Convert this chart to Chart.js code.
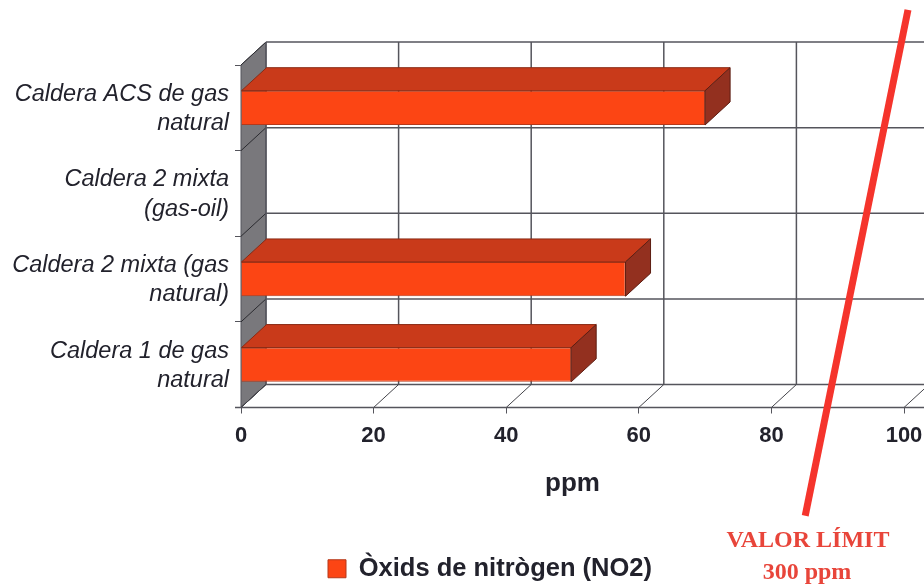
<!DOCTYPE html>
<html>
<head>
<meta charset="utf-8">
<title>Òxids de nitrògen</title>
<script src="https://cdn.jsdelivr.net/npm/chart.js@4/dist/chart.umd.min.js"></script>
<style>
    html, body { margin: 0; padding: 0; background: #fff; }
    #wrap { width: 924px; height: 587px; }
</style>
</head>
<body>
<div id="wrap"><canvas id="chart" width="924" height="587"></canvas></div>
<script>
const categories = [
    ['Caldera ACS de gas', 'natural'],
    ['Caldera 2 mixta', '(gas-oil)'],
    ['Caldera 2 mixta (gas', 'natural)'],
    ['Caldera 1 de gas', 'natural']
];
const noxValues = [70, 0, 58, 49.8];
const xTicks = [0, 20, 40, 60, 80, 100];

// the slanted limit line, in x units and on a hidden 0-100 vertical axis
const limitX = [85.1, 100.6];
const limitY = [-31.6, 116.1];
const limitLabel = ['VALOR LÍMIT', '300 ppm'];

const depthX = 25;
const depthY = 23;
const gridColor = '#55555c';
const textColor = '#22222c';
const sansFont = '"Liberation Sans", Arial, sans-serif';

function polygon(ctx, points, fill, stroke) {
    ctx.beginPath();
    points.forEach(([x, y], i) => (i ? ctx.lineTo(x, y) : ctx.moveTo(x, y)));
    ctx.closePath();
    ctx.fillStyle = fill;
    ctx.fill();
    ctx.lineWidth = 1;
    ctx.strokeStyle = stroke;
    ctx.stroke();
}

function segment(ctx, x1, y1, x2, y2, color, width) {
    ctx.beginPath();
    ctx.moveTo(x1, y1);
    ctx.lineTo(x2, y2);
    ctx.strokeStyle = color;
    ctx.lineWidth = width;
    ctx.stroke();
}

// back wall, side wall and floor of the 3d box
const boxPlugin = {
    id: 'box3d',
    beforeDraw(chart) {
        // legend sits off-centre in the reference
        const legend = chart.legend;
        legend.left = 318;
        legend.right = 720;
        legend.top = 546;
        legend.bottom = 587;
    },
    beforeDatasetsDraw(chart) {
        const { ctx, chartArea, width } = chart;
        const x = chart.scales.x;
        const left = chartArea.left;
        const top = chartArea.top;
        const bottom = chartArea.bottom;
        const bandHeight = (bottom - top) / categories.length;

        ctx.save();
        polygon(ctx, [[left, top], [left + depthX, top - depthY], [left + depthX, bottom - depthY], [left, bottom]], '#79787c', '#55555c');

        for (let i = 0; i <= categories.length; i++) {
            const yFront = top + bandHeight * i;
            segment(ctx, left, yFront, left + depthX, yFront - depthY, '#2b2b30', 1);
            segment(ctx, left + depthX, yFront - depthY, width, yFront - depthY, gridColor, 1.5);
        }
        xTicks.forEach((tick) => {
            const xFront = x.getPixelForValue(tick);
            segment(ctx, xFront + depthX, top - depthY, xFront + depthX, bottom - depthY, gridColor, 1.5);
            segment(ctx, xFront, bottom, xFront + depthX, bottom - depthY, '#44444a', 1);
        });
        segment(ctx, left - 6, bottom, width, bottom, gridColor, 1.5);
        ctx.restore();
    },
    afterDatasetsDraw(chart) {
        const { ctx } = chart;
        const bars = chart.getDatasetMeta(0).data;

        ctx.save();
        bars.forEach((bar, i) => {
            if (!noxValues[i]) return;
            const { x: end, y: center, base, height } = bar.getProps(['x', 'y', 'base', 'height']);
            const barTop = center - height / 2;
            const barBottom = center + height / 2;
            polygon(ctx, [[base, barTop], [base + depthX, barTop - depthY], [end + depthX, barTop - depthY], [end, barTop]], '#c93a1a', '#8a2a14');
            polygon(ctx, [[end, barTop], [end + depthX, barTop - depthY], [end + depthX, barBottom - depthY], [end, barBottom]], '#93301f', '#5c1d12');
        });

        ctx.fillStyle = '#e8453a';
        ctx.font = 'bold 24px "Liberation Serif", serif';
        ctx.textAlign = 'center';
        ctx.textBaseline = 'middle';
        ctx.fillText(limitLabel[0], 808, 541);
        ctx.fillText(limitLabel[1], 807, 573);
        ctx.restore();
    }
};

new Chart(document.getElementById('chart'), {
    type: 'bar',
    data: {
        labels: categories,
        datasets: [
            {
                label: 'Òxids de nitrògen (NO2)',
                data: noxValues,
                backgroundColor: '#fc4514',
                borderColor: '#b5391a',
                borderWidth: 1,
                barPercentage: 0.4,
                categoryPercentage: 1,
                grouped: false
            },
            {
                type: 'scatter',
                label: 'Valor límit',
                indexAxis: 'x',
                xAxisID: 'x',
                yAxisID: 'yLimit',
                data: limitX.map((x, i) => ({ x: x, y: limitY[i] })),
                showLine: true,
                clip: false,
                borderColor: '#f5342c',
                borderWidth: 7,
                pointRadius: 0,
                order: -1
            }
        ]
    },
    options: {
        indexAxis: 'y',
        responsive: false,
        animation: false,
        layout: { padding: { top: 65, right: 20, left: 0, bottom: 0 } },
        scales: {
            x: {
                type: 'linear',
                position: 'bottom',
                min: 0,
                max: 100,
                afterFit: (scale) => {
                    scale.height = 134;
                    scale.paddingLeft = 0;
                    scale.paddingRight = 0;
                },
                afterBuildTicks: (scale) => { scale.ticks = xTicks.map((value) => ({ value })); },
                grid: { drawOnChartArea: false, color: gridColor, tickLength: 6 },
                border: { display: false },
                ticks: {
                    padding: 9,
                    maxRotation: 0,
                    color: textColor,
                    font: { family: sansFont, size: 22, weight: 'bold' }
                },
                title: {
                    display: true,
                    text: 'ppm',
                    color: textColor,
                    padding: { top: 0, bottom: 42 },
                    font: { family: sansFont, size: 26, weight: 'bold' }
                }
            },
            y: {
                type: 'category',
                position: 'left',
                afterFit: (scale) => { scale.width = 241; },
                grid: { drawOnChartArea: false, color: gridColor, tickLength: 6 },
                border: { display: false },
                ticks: {
                    padding: 6,
                    labelOffset: 1,
                    autoSkip: false,
                    color: textColor,
                    font: { family: sansFont, size: 23.5, style: 'italic', lineHeight: 1.24 }
                }
            },
            yLimit: {
                type: 'linear',
                axis: 'y',
                display: false,
                offset: false,
                min: 0,
                max: 100
            }
        },
        plugins: {
            title: { display: false },
            tooltip: { enabled: false },
            legend: {
                display: true,
                position: 'bottom',
                align: 'start',
                labels: {
                    filter: (item) => item.datasetIndex === 0,
                    boxWidth: 18,
                    boxHeight: 18,
                    padding: 10,
                    color: textColor,
                    font: { family: sansFont, size: 25.5, weight: 'bold' }
                }
            }
        }
    },
    plugins: [boxPlugin]
});
</script>
</body>
</html>
